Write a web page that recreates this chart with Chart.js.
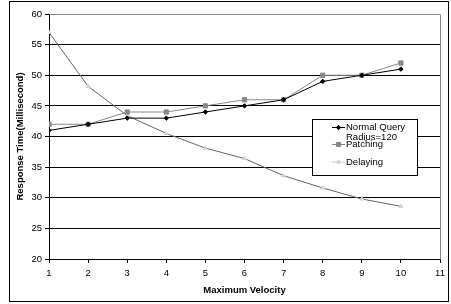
<!DOCTYPE html>
<html>
<head>
<meta charset="utf-8">
<script src="https://cdn.jsdelivr.net/npm/chart.js@4/dist/chart.umd.min.js"></script>
<style>
  html, body { margin: 0; padding: 0; background: #fff; }
  #wrap { position: relative; width: 451px; height: 304px; }
</style>
</head>
<body>
<div id="wrap"><canvas id="chart" width="451" height="304"></canvas></div>
<script>
// values
const velocity = [1, 2, 3, 4, 5, 6, 7, 8, 9, 10];
const normalQuery = [41, 42, 43, 43, 44, 45, 46, 49, 50, 51];
const patching = [42, 42, 44, 44, 45, 46, 46, 50, 50, 52];
const delaying = [57, 48.2, 43.4, 40.5, 38.1, 36.4, 33.6, 31.6, 29.8, 28.6];
const seriesNames = [["Normal Query", "Radius=120"], ["Patching"], ["Delaying"]];

const FONT = "'Liberation Sans', Arial, sans-serif";
const FS = 9.5;

const toPoints = (ys) => velocity.map((x, i) => ({ x, y: ys[i] }));

// outer frame, plot border (top/right) and the boxed legend
const framePlugin = {
  id: "frame",
  afterDraw(chart) {
    const { ctx, chartArea: a } = chart;
    ctx.save();
    ctx.strokeStyle = "#888";
    ctx.lineWidth = 1;
    ctx.beginPath();
    ctx.moveTo(Math.round(a.left) + 0.5, Math.round(a.top) + 0.5);
    ctx.lineTo(Math.round(a.right) + 0.5, Math.round(a.top) + 0.5);
    ctx.lineTo(Math.round(a.right) + 0.5, Math.round(a.bottom) + 0.5);
    ctx.stroke();

    ctx.strokeStyle = "#000";
    ctx.strokeRect(9.5, 1.5, 439, 300);

    // legend
    const lx = 312.5, ly = 119.5, lw = 105, lh = 56;
    ctx.fillStyle = "#fff";
    ctx.fillRect(lx, ly, lw, lh);
    ctx.strokeStyle = "#000";
    ctx.strokeRect(lx, ly, lw, lh);
    const rows = [127.5, 144.5, 162];
    ctx.textBaseline = "middle";
    chart.data.datasets.forEach((ds, i) => {
      const y = rows[i];
      const c = ds.pointBorderColor || ds.borderColor;
      ctx.strokeStyle = c;
      ctx.lineWidth = 1;
      ctx.beginPath();
      ctx.moveTo(332, y);
      ctx.lineTo(345, y);
      ctx.stroke();
      ctx.fillStyle = ds.backgroundColor;
      Chart.helpers.drawPoint(ctx, {
        pointStyle: ds.pointStyle, radius: ds.pointRadius, borderWidth: 1
      }, 338.5, y);
      ctx.fillStyle = "#000";
      ctx.font = FS + "px " + FONT;
      seriesNames[i].forEach((t, k) => ctx.fillText(t, 346, y + k * 9.5));
    });
    ctx.restore();
  }
};

new Chart(document.getElementById("chart"), {
  type: "line",
  data: {
    datasets: [
      {
        label: seriesNames[0].join(" "),
        data: toPoints(normalQuery),
        borderColor: "#000",
        backgroundColor: "#000",
        pointBorderColor: "#000",
        borderWidth: 1,
        pointStyle: "rectRot",
        pointRadius: 2.2,
        pointBorderWidth: 1
      },
      {
        label: seriesNames[1].join(" "),
        data: toPoints(patching),
        borderColor: "#888",
        backgroundColor: "#888",
        pointBorderColor: "#888",
        borderWidth: 1,
        pointStyle: "rect",
        pointRadius: 3,
        pointBorderWidth: 1
      },
      {
        label: seriesNames[2].join(" "),
        data: toPoints(delaying),
        borderColor: "#666",
        backgroundColor: "#ddd",
        pointBorderColor: "#ccc",
        borderWidth: 1,
        pointStyle: "triangle",
        pointRadius: 2.2,
        pointBorderWidth: 1
      }
    ]
  },
  options: {
    responsive: false,
    animation: false,
    layout: { padding: { left: 0, top: 14, right: 11, bottom: 0 } },
    plugins: {
      legend: { display: false },
      tooltip: { enabled: false }
    },
    scales: {
      x: {
        type: "linear",
        min: 1,
        max: 11,
        afterFit: (s) => { s.height = 45; },
        ticks: { stepSize: 1, color: "#000", padding: 5, font: { family: FONT, size: FS } },
        grid: { display: true, drawOnChartArea: false, drawTicks: true, tickLength: 4, color: "#000" },
        border: { color: "#000", width: 1 },
        title: {
          display: true, text: "Maximum Velocity", color: "#000",
          font: { family: FONT, size: FS, weight: "bold" },
          padding: { top: 0, bottom: 8 }
        }
      },
      y: {
        min: 20,
        max: 60,
        afterFit: (s) => { s.width = 49; },
        ticks: { stepSize: 5, color: "#000", padding: 3, font: { family: FONT, size: FS } },
        grid: { color: "#000", lineWidth: 1, tickLength: 4 },
        border: { color: "#000", width: 1 },
        title: {
          display: true, text: "Response Time(Millisecond)", color: "#000",
          font: { family: FONT, size: FS, weight: "bold" },
          padding: { top: 15, bottom: 0 }
        }
      }
    }
  },
  plugins: [framePlugin]
});
</script>
</body>
</html>
